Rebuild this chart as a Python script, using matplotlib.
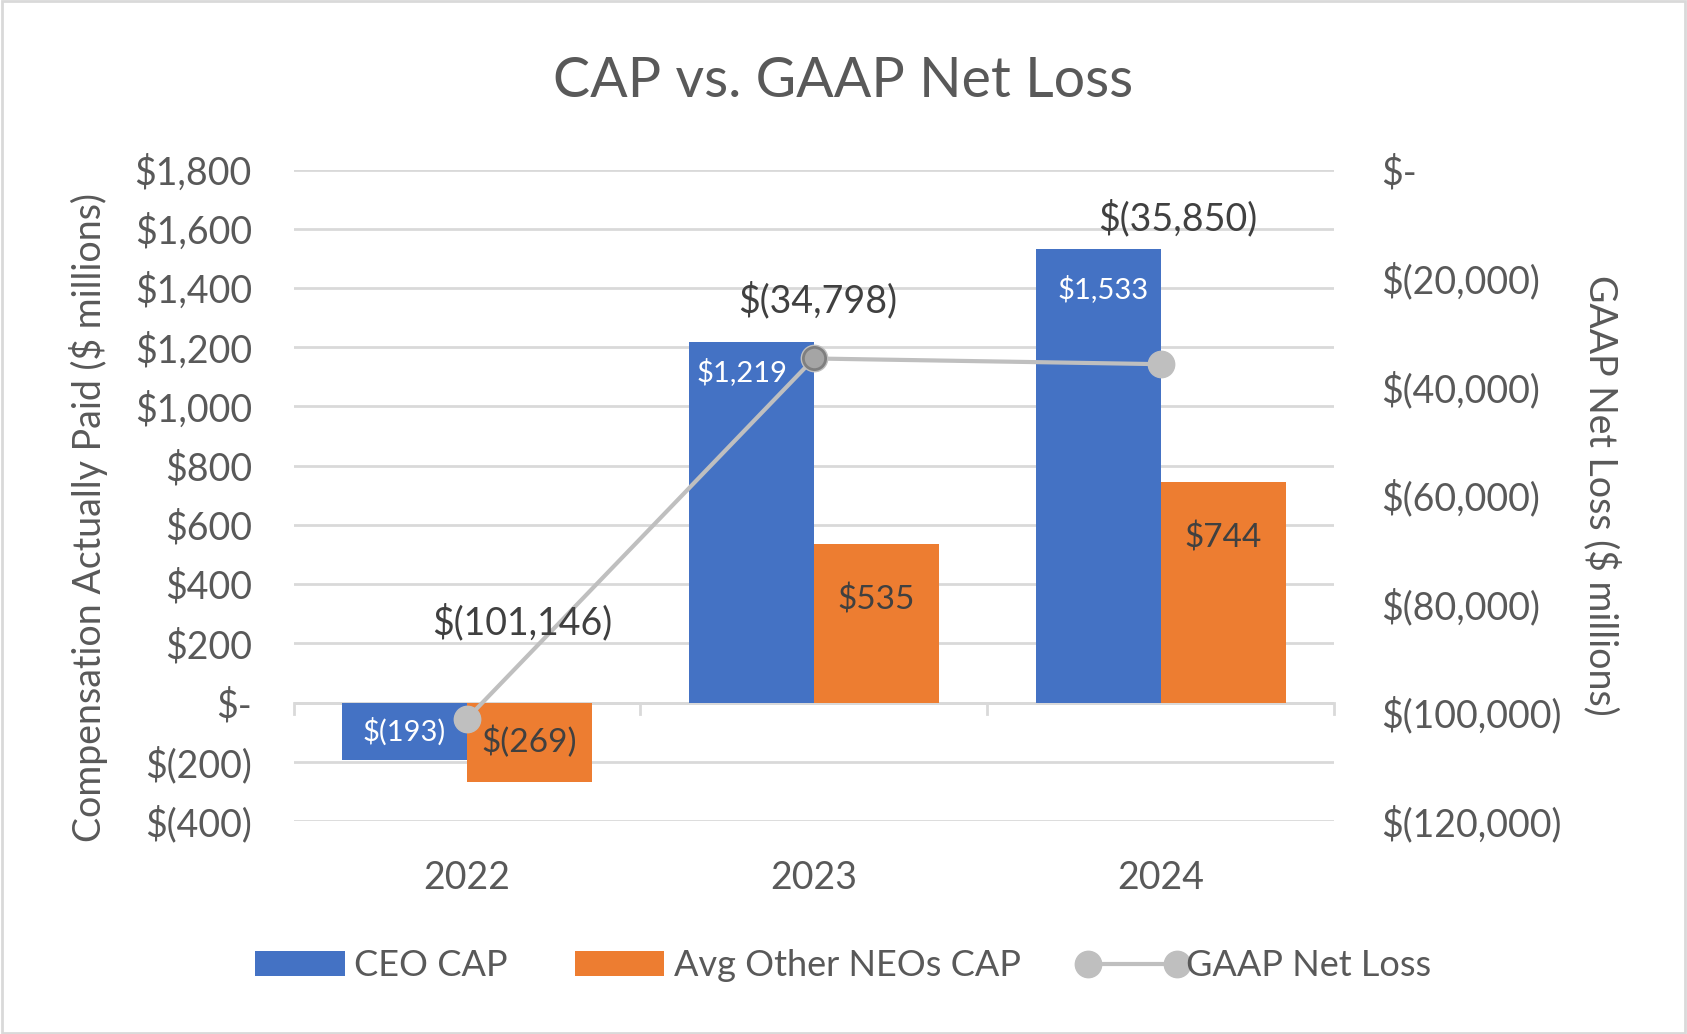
import matplotlib
matplotlib.use("Agg")
import matplotlib.pyplot as plt
from matplotlib.lines import Line2D
from matplotlib.patches import Patch, Rectangle
from matplotlib.ticker import FuncFormatter
from matplotlib.legend_handler import HandlerLine2D
import numpy as np

plt.rcParams['font.family'] = ['Lato', 'DejaVu Sans']

years = ["2022", "2023", "2024"]
ceo_cap = [-193, 1219, 1533]
neo_cap = [-269, 535, 744]
net_loss = [-101146, -34798, -35850]
ceo_labels = ["$(193)", "$1,219", "$1,533"]
neo_labels = ["$(269)", "$535", "$744"]
loss_labels = ["$(101,146)", "$(34,798)", "$(35,850)"]
left_ticks = list(range(-400, 1801, 200))
right_ticks = list(range(-120000, 1, 20000))

BLUE = "#4472C4"
ORANGE = "#ED7D31"
GRAY = "#BFBFBF"
TXT = "#595959"
DARK = "#404040"

fig = plt.figure(figsize=(16.87, 10.34), dpi=100)
fig.patches.append(Rectangle((0.001, 0.001), 0.998, 0.998, transform=fig.transFigure,
                             fill=False, edgecolor="#D9D9D9", linewidth=2))
ax = fig.add_axes([0.174, 0.206, 0.617, 0.630])
ax2 = ax.twinx()

x = np.arange(len(years))
w = 0.36
ax.bar(x - w / 2, ceo_cap, w, color=BLUE, zorder=3)
ax.bar(x + w / 2, neo_cap, w, color=ORANGE, zorder=3)

ax.set_ylim(-400, 1800)
ax.set_xlim(-0.5, 2.5)
ax.set_yticks(left_ticks)
ax.grid(axis='y', color="#D9D9D9", linewidth=2, zorder=0)
ax.set_axisbelow(True)
for s in ax.spines.values():
    s.set_visible(False)
for s in ax2.spines.values():
    s.set_visible(False)


def fmt_money(v, pos):
    v = int(round(v))
    if v == 0:
        return "$-"
    if v < 0:
        return "$({:,})".format(-v)
    return "${:,}".format(v)


ax.yaxis.set_major_formatter(FuncFormatter(fmt_money))
ax2.yaxis.set_major_formatter(FuncFormatter(fmt_money))
ax.tick_params(axis='y', length=0, pad=30, labelsize=27, labelcolor=TXT)
ax.set_xticks(x)
ax.set_xticklabels(years)
ax.tick_params(axis='x', length=0, pad=28, labelsize=27, labelcolor=TXT)

# zero line with category boundary ticks
ax.axhline(0, color="#D9D9D9", linewidth=2, zorder=1)
for xb in np.arange(-0.5, 3.0, 1.0):
    ax.plot([xb, xb], [0, -40], color="#D9D9D9", linewidth=2, zorder=1, clip_on=False)

ax2.set_ylim(-120000, 0)
ax2.set_yticks(right_ticks)
ax2.tick_params(axis='y', length=0, pad=34, labelsize=27, labelcolor=TXT)
ax2.plot(x, net_loss, color=GRAY, linewidth=3, marker='o', markersize=19,
         markerfacecolor=GRAY, markeredgecolor=GRAY, zorder=5)
# highlighted 2023 point (formatted differently in the source)
ax2.plot(x[1:2], net_loss[1:2], linestyle='none', marker='o', markersize=16,
         markerfacecolor="#A5A5A5", markeredgecolor="#7F7F7F", markeredgewidth=2, zorder=6)

# bar labels
ceo_offsets = [(0, 0), (-7, -22), (3, -29)]
for xi, v, lab, off in zip(x - w / 2, ceo_cap, ceo_labels, ceo_offsets):
    if v < 0:
        ax.annotate(lab, (xi, v / 2), ha='center', va='center', color="white", fontsize=21)
    else:
        ax.annotate(lab, (xi, v), xytext=off, textcoords='offset points',
                    ha='center', va='center', color="white", fontsize=21)
for xi, v, lab in zip(x + w / 2, neo_cap, neo_labels):
    if v < 0:
        ax.annotate(lab, (xi, v / 2), ha='center', va='center', color=DARK, fontsize=24)
    else:
        ax.annotate(lab, (xi, v), xytext=(0, -40), textcoords='offset points',
                    ha='center', va='center', color=DARK, fontsize=24)

loss_offsets = [(40, 69), (3, 42), (12, 105)]
for xi, v, lab, off in zip(x, net_loss, loss_labels, loss_offsets):
    ax2.annotate(lab, (xi, v), xytext=off, textcoords='offset points',
                 ha='center', va='center', color=DARK, fontsize=27, zorder=7)

ax.set_ylabel("Compensation Actually Paid ($ millions)", fontsize=27, color=TXT, labelpad=19)
ax.yaxis.label.set_y(0.466)
ax2.set_ylabel("GAAP Net Loss ($ millions)", fontsize=27, color=TXT, rotation=-90,
               labelpad=15, va='bottom')

fig.suptitle("CAP vs. GAAP Net Loss", fontsize=40, color=TXT, y=0.921, va='center')

handles = [Patch(facecolor=BLUE), Patch(facecolor=ORANGE),
           Line2D([0, 1], [0, 0], color=GRAY, linewidth=3, marker='o', markersize=19,
                  markerfacecolor=GRAY, markeredgecolor=GRAY)]
leg = fig.legend(handles, ["CEO CAP", "Avg Other NEOs CAP", "GAAP Net Loss"],
                 loc='center', bbox_to_anchor=(0.5, 0.066), ncol=3, frameon=False,
                 fontsize=26, labelcolor=TXT, handlelength=2.47, handleheight=0.66,
                 handletextpad=0.27, columnspacing=1.85, numpoints=2,
                 handler_map={Line2D: HandlerLine2D(marker_pad=0)})

fig.savefig("out.png", dpi=100)
